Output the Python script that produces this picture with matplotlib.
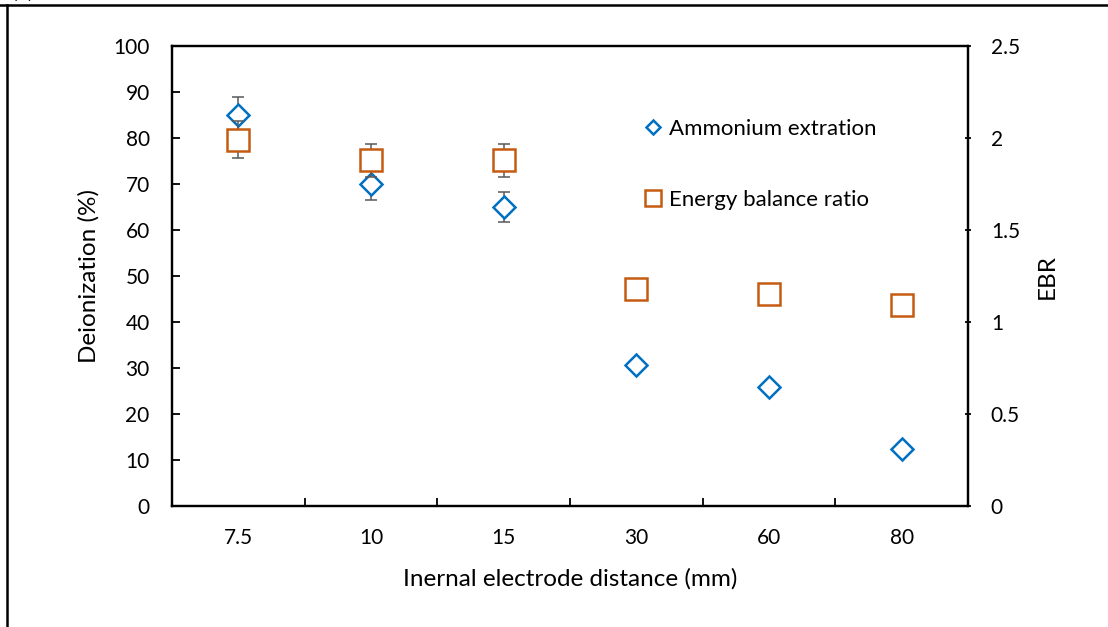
import numpy as np
import matplotlib
matplotlib.use("Agg")
import matplotlib.pyplot as plt
from matplotlib.lines import Line2D

plt.rcParams['font.family'] = ['Lato', 'DejaVu Sans']

# electrode distance categories (mm)
distances = ["7.5", "10", "15", "30", "60", "80"]
# ammonium extraction / deionization (%)
ammonium = [85, 70, 65, 30.6, 25.9, 12.3]
ammonium_err = [4, 3.5, 3.2, 0, 0, 0]
# energy balance ratio
ebr = [1.99, 1.88, 1.88, 1.18, 1.15, 1.09]
ebr_err = [0.10, 0.09, 0.09, 0, 0, 0]

blue = "#0070C0"
orange = "#C55A11"
grey = "#595959"

fig = plt.figure(figsize=(11.08, 6.27), dpi=100)
ax = fig.add_axes([0.1552, 0.193, 0.7184, 0.7336])
ax2 = ax.twinx()

x = np.arange(len(distances))

ax.errorbar(x, ammonium, yerr=ammonium_err, fmt="none", ecolor=grey,
            elinewidth=1.1, capsize=4, capthick=1.1, zorder=2)
ax.plot(x, ammonium, ls="none", marker="D", ms=11, mfc="white",
        mec=blue, mew=1.8, zorder=3)

ax2.errorbar(x, ebr, yerr=ebr_err, fmt="none", ecolor=grey,
             elinewidth=1.1, capsize=4, capthick=1.1, zorder=2)
ax2.plot(x, ebr, ls="none", marker="s", ms=16, mfc="white",
         mec=orange, mew=1.8, zorder=3)

ax.set_xlim(-0.5, len(distances) - 0.5)
ax.set_ylim(0, 100)
ax2.set_ylim(0, 2.5)

ax.set_yticks(np.arange(0, 101, 10))
ax2.set_yticks([0, 0.5, 1, 1.5, 2, 2.5])
ax2.set_yticklabels(["0", "0.5", "1", "1.5", "2", "2.5"])

# tick marks between categories, labels at the category centres
ax.set_xticks(x[:-1] + 0.5)
ax.set_xticklabels([])
ax.set_xticks(x, minor=True)
ax.set_xticklabels(distances, minor=True)
ax.tick_params(axis="x", which="major", direction="in", length=6, width=1.3)
ax.tick_params(axis="x", which="minor", length=0, pad=16, labelsize=15)
ax.tick_params(axis="y", direction="in", length=6, width=1.3, pad=16, labelsize=15)
ax2.tick_params(axis="y", direction="inout", length=5, width=1.3, pad=14, labelsize=15)

for a in (ax, ax2):
    for s in a.spines.values():
        s.set_linewidth(1.6)

ax.set_xlabel("Inernal electrode distance (mm)", fontsize=17.5, labelpad=14)
ax.set_ylabel("Deionization (%)", fontsize=17.5, labelpad=10)
ax2.set_ylabel("EBR", fontsize=17.5, labelpad=12)

handles = [
    Line2D([], [], ls="none", marker="D", ms=7.5, mfc="white", mec=blue, mew=1.8),
    Line2D([], [], ls="none", marker="s", ms=11, mfc="white", mec=orange, mew=1.8),
]
ax.legend(handles, ["Ammonium extration", "Energy balance ratio"],
          loc="upper left", bbox_to_anchor=(0.568, 0.885), frameon=False,
          fontsize=16, labelspacing=2.3, handlelength=0.8, handletextpad=0.3)

# outer frame lines (top and left)
fig.add_artist(Line2D([0, 1], [1 - 5 / 627, 1 - 5 / 627], color="black", lw=1.8,
                      transform=fig.transFigure))
fig.add_artist(Line2D([7 / 1108, 7 / 1108], [0, 1 - 5 / 627], color="black", lw=1.8,
                      transform=fig.transFigure))
fig.text(12 / 1108, 1 + 2 / 627, "(a)", fontsize=15, va="baseline")

fig.savefig("out.png", dpi=100)
